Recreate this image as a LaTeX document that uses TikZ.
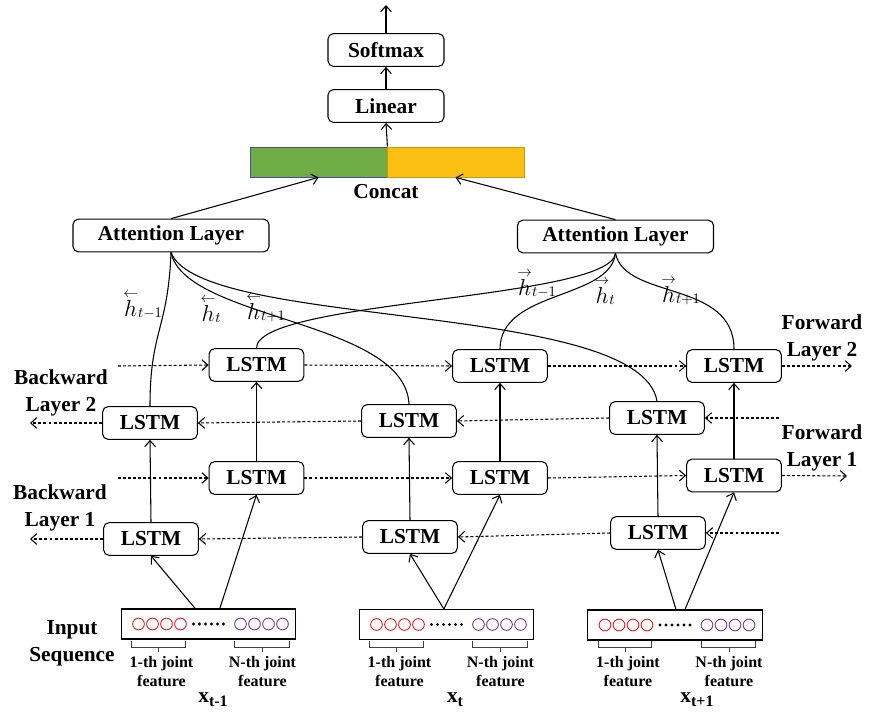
\documentclass[tikz,border=0pt]{standalone}
\usepackage{fontspec}
\setmainfont{Liberation Serif}
\usetikzlibrary{arrows.meta}

\definecolor{catgreen}{RGB}{112,173,71}
\definecolor{catyellow}{RGB}{252,192,20}
\definecolor{dotred}{RGB}{235,30,40}
\definecolor{dotpurple}{RGB}{120,60,160}

\tikzset{
  lstm/.style={draw, rounded corners=4pt, minimum width=71pt, minimum height=24.5pt,
    inner sep=0pt, font=\bfseries\fontsize{16}{18}\selectfont},
  attn/.style={lstm, minimum width=147pt},
  head/.style={lstm, minimum width=87pt},
  lbl/.style={font=\bfseries\fontsize{16}{20}\selectfont, align=center},
  small/.style={font=\bfseries\fontsize{12}{14.25}\selectfont, align=center},
  hlbl/.style={font=\fontsize{16}{18}\selectfont, inner sep=0pt},
  seq/.style={draw, minimum width=131pt, minimum height=22.5pt, inner sep=0pt},
  flow/.style={dash pattern=on 2.2pt off 1.6pt, -{Straight Barb[length=4.5pt,width=8pt]}},
  up/.style={-{Straight Barb[length=4.5pt,width=8pt]}},
}
\newcommand{\xsub}[1]{x\raisebox{-0.4ex}{\fontsize{12}{12}\selectfont #1}}
\newcommand{\hvec}[2]{$\stackrel{#1}{h}_{t#2}$}

\begin{document}
\begin{tikzpicture}[x=0.75pt, y=-0.75pt, line width=0.8pt]

    \useasboundingbox (0,0) rectangle (869,713);

    % head
    \node[head] (softmax) at (386,50) {Softmax};
    \node[head] (linear) at (386,106) {Linear};
    \node[draw=blue!45!black!70, fill=catgreen, line width=0.6pt, minimum width=102.75pt, minimum height=22.5pt] (catl) at (318.5,162) {};
    \node[draw=catyellow!80!black, fill=catyellow, line width=0.6pt, minimum width=102.75pt, minimum height=22.5pt] (catr) at (455.5,162) {};
    \node[lbl] (concat) at (386,192) {Concat};
    \coordinate (out) at (386,5);
    \draw[up] (softmax.north) -- (out);
    \draw[up] (linear.north) -- (softmax.south);
    \draw[up] (catl.north east) -- (linear.south);

    % attention
    \node[attn] (attL) at (171,235.5) {Attention Layer};
    \node[attn] (attR) at (615.5,236.5) {Attention Layer};
    \draw[up] (attL.north) -- (catl.south);
    \draw[up] (attR.north) -- (catr.south);

    % lstm cells
    \node[lstm] (f2a) at (256.5,365) {LSTM};
    \node[lstm] (f2b) at (500,366) {LSTM};
    \node[lstm] (f2c) at (734,366) {LSTM};
    \node[lstm] (b2a) at (150,423) {LSTM};
    \node[lstm] (b2b) at (409,421) {LSTM};
    \node[lstm] (b2c) at (657,418) {LSTM};
    \node[lstm] (f1a) at (256.5,478) {LSTM};
    \node[lstm] (f1b) at (500,478) {LSTM};
    \node[lstm] (f1c) at (734,475.5) {LSTM};
    \node[lstm] (b1a) at (151,539) {LSTM};
    \node[lstm] (b1b) at (410,537) {LSTM};
    \node[lstm] (b1c) at (658,533) {LSTM};

    % recurrent links
    \coordinate (f2in) at (118,366);
    \coordinate (f2out) at (852,366);
    \coordinate (f1in) at (118,478);
    \coordinate (f1out) at (847,476);
    \coordinate (b2in) at (779,418);
    \coordinate (b2out) at (30,423);
    \coordinate (b1in) at (779,533);
    \coordinate (b1out) at (30,539);
    \draw[flow] (f2in) -- (f2a.west);
    \draw[flow] (f2a.east) -- (f2b.west);
    \draw[flow] (f2b.east) -- (f2c.west);
    \draw[flow] (f2c.east) -- (f2out);
    \draw[flow] (f1in) -- (f1a.west);
    \draw[flow] (f1a.east) -- (f1b.west);
    \draw[flow] (f1b.east) -- (f1c.west);
    \draw[flow] (f1c.east) -- (f1out);
    \draw[flow] (b2in) -- (b2c.east);
    \draw[flow] (b2c.west) -- (b2b.east);
    \draw[flow] (b2b.west) -- (b2a.east);
    \draw[flow] (b2a.west) -- (b2out);
    \draw[flow] (b1in) -- (b1c.east);
    \draw[flow] (b1c.west) -- (b1b.east);
    \draw[flow] (b1b.west) -- (b1a.east);
    \draw[flow] (b1a.west) -- (b1out);

    % layer to layer
    \foreach \c in {a,b,c} {
        \draw[up] (b1\c.north) -- (b2\c.south);
        \draw[up] (f1\c.north) -- (f2\c.south);
    }

    % outputs to attention
    \draw (attL.south) .. controls (168,330) and (150,330) .. (b2a.north);
    \draw (attL.south) .. controls (185,320) and (405,320) .. (b2b.north);
    \draw (attL.south) .. controls (200,330) and (640,300) .. (b2c.north);
    \draw (attR.south) .. controls (610,300) and (256,300) .. (f2a.north);
    \draw (attR.south) .. controls (610,300) and (500,290) .. (f2b.north);
    \draw (attR.south) .. controls (625,300) and (734,280) .. (f2c.north);

    %% h labels
    \node[hlbl] (hb1) at (143,305) {\hvec{\leftarrow}{-1}};
    \node[hlbl] (hb2) at (211,309) {\hvec{\leftarrow}{}};
    \node[hlbl] (hb3) at (266,308) {\hvec{\leftarrow}{+1}};
    \node[hlbl] (hf1) at (537,284) {\hvec{\rightarrow}{-1}};
    \node[hlbl] (hf2) at (605,291) {\hvec{\rightarrow}{}};
    \node[hlbl] (hf3) at (681,291) {\hvec{\rightarrow}{+1}};

    % side labels
    \node[lbl] (fw2) at (822,338) {Forward\\Layer 2};
    \node[lbl] (fw1) at (822,448) {Forward\\Layer 1};
    \node[lbl] (bw2) at (61,393) {Backward\\Layer 2};
    \node[lbl] (bw1) at (60,508) {Backward\\Layer 1};
    \node[lbl] (inseq) at (72,643) {Input\\Sequence};

    % input sequences
    \foreach \cx/\cy/\nm in {208.5/624/a, 446.5/624.5/b, 675/625/c} {
        \node[seq] (in\nm) at (\cx,\cy) {};
        \foreach \k in {0,...,3} {
            \draw[dotred, line width=0.7pt] (\cx-70+14*\k,\cy) circle (4.4pt);
            \draw[dotpurple, line width=0.7pt] (\cx+32+14*\k,\cy) circle (4.4pt);
        }
        \foreach \k in {0,...,5}
            \fill (\cx-15+6*\k,\cy) circle (1.2pt);
        % braces
        \draw[black!75, line width=0.6pt] (\cx-77,641) -- (\cx-77,647) -- (\cx-23.5,647) -- (\cx-23.5,641)
            (\cx-50,647) -- (\cx-50,652);
        \draw[black!75, line width=0.6pt] (\cx+26,641) -- (\cx+26,647) -- (\cx+80.5,647) -- (\cx+80.5,641)
            (\cx+54,647) -- (\cx+54,652);
        \node[small] (j1\nm) at (\cx-47,672) {1-th joint\\feature};
        \node[small] (jn\nm) at (\cx+54,672) {N-th joint\\feature};
    }
    \node[lbl] (xa) at (213,700) {\xsub{t-1}};
    \node[lbl] (xb) at (455,700) {\xsub{t}};
    \node[lbl] (xc) at (697,700) {\xsub{t+1}};

    % inputs to cells
    \draw[up] ([xshift=-10pt]ina.north) -- (b1a.south);
    \draw[up] ([xshift=8.5pt]ina.north) -- (f1a.south);
    \draw[up] ([xshift=-2pt]inb.north) -- (b1b.south);
    \draw[up] ([xshift=-2pt]inb.north) -- (f1b.south);
    \draw[up] ([xshift=0.75pt]inc.north) -- (b1c.south);
    \draw[up] ([xshift=7.5pt]inc.north) -- (f1c.south);

\end{tikzpicture}
\end{document}
